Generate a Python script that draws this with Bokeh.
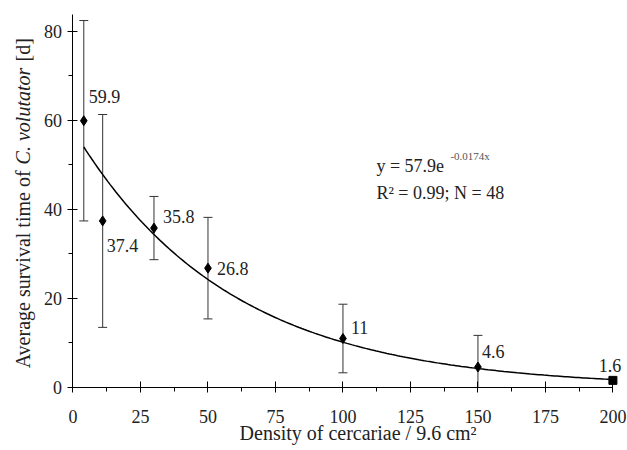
import numpy as np
from bokeh.plotting import figure
from bokeh.models import (ColumnDataSource, Whisker, TeeHead, Label, FixedTicker, Range1d)
from bokeh.embed import file_html
from bokeh.resources import INLINE

# ---- data ----
density = [4, 11, 30, 50, 100, 150, 200]
survival = [59.9, 37.4, 35.8, 26.8, 11.0, 4.6, 1.6]
sd = [22.5, 23.9, 7.1, 11.4, 7.7, 7.1, None]
point_labels = ["59.9", "37.4", "35.8", "26.8", "11", "4.6", "1.6"]
x_ticks = [0, 25, 50, 75, 100, 125, 150, 175, 200]
y_ticks = [0, 20, 40, 60, 80]
fit_a = 57.9
fit_b = -0.0174
fit_text = "y = 57.9e"
fit_exp_text = "-0.0174x"
stats_text = "R\u00b2 = 0.99; N = 48"

FONT = "Liberation Serif"
TXT = "#222222"

# the frame covers the whole canvas; axes are drawn at fixed data locations
p = figure(width=627, height=450, output_backend="svg", toolbar_location=None,
           x_range=Range1d(-26.85, 205.4), y_range=Range1d(-14.15, 86.9),
           min_border=0)
p.outline_line_color = None
p.xgrid.grid_line_color = None
p.ygrid.grid_line_color = None
p.background_fill_color = "white"
p.border_fill_color = "white"

xa = p.xaxis[0]
xa.fixed_location = 0
xa.ticker = FixedTicker(ticks=x_ticks, minor_ticks=[t + 12.5 for t in x_ticks[:-1]])
xa.bounds = (0, 200)
xa.major_tick_in = 6
xa.major_tick_out = 5
xa.minor_tick_in = 0
xa.minor_tick_out = 4
xa.major_label_standoff = 18
ya = p.yaxis[0]
ya.fixed_location = 0
ya.ticker = FixedTicker(ticks=y_ticks, minor_ticks=[10, 30, 50, 70])
ya.bounds = (0, 83.8)
ya.major_tick_in = 5
ya.major_tick_out = 5
ya.minor_tick_in = 0
ya.minor_tick_out = 4
ya.major_label_standoff = 6
for ax in (xa, ya):
    ax.axis_line_color = "black"
    ax.major_tick_line_color = "black"
    ax.minor_tick_line_color = "black"
    ax.major_label_text_font = FONT
    ax.major_label_text_font_size = "18px"
    ax.major_label_text_color = TXT

# fitted curve
xf = np.linspace(density[0], density[-1], 200)
yf = fit_a * np.exp(fit_b * xf)
p.line(xf, yf, line_color="black", line_width=1.5)

# error bars
eb = [(x, m, s) for x, m, s in zip(density, survival, sd) if s is not None]
src_err = ColumnDataSource(data=dict(
    x=[e[0] for e in eb],
    upper=[e[1] + e[2] for e in eb],
    lower=[max(e[1] - e[2], 0) for e in eb],
))
w = Whisker(source=src_err, base="x", upper="upper", lower="lower",
            line_color="#333333", line_width=1,
            upper_head=TeeHead(size=9, line_color="#333333", line_width=1),
            lower_head=TeeHead(size=9, line_color="#333333", line_width=1))
p.add_layout(w)

# points
p.scatter(density[:-1], survival[:-1], marker="diamond", size=10, color="black")
p.scatter(density[-1:], survival[-1:], marker="square", size=8, color="black")

# point labels
offsets = [(5, 24, "left"), (4, -25, "left"), (9, 12, "left"), (9, 0, "left"),
           (8, 11, "left"), (4, 16, "left"), (-3, 15, "center")]
for x, y, t, (dx, dy, al) in zip(density, survival, point_labels, offsets):
    p.add_layout(Label(x=x, y=y, text=t, x_offset=dx, y_offset=dy, text_align=al,
                       text_baseline="middle", text_font=FONT, text_font_size="18px",
                       text_color=TXT))

# equation
p.add_layout(Label(x=112.4, y=49.7, text=fit_text, text_baseline="middle",
                   text_font=FONT, text_font_size="18px", text_color=TXT))
p.add_layout(Label(x=139.8, y=52.0, text=fit_exp_text, text_baseline="middle",
                   text_font=FONT, text_font_size="11px", text_color="#555555"))
p.add_layout(Label(x=112.4, y=43.6, text=stats_text, text_baseline="middle",
                   text_font=FONT, text_font_size="18px", text_color=TXT))

# x axis label
p.add_layout(Label(x=105.6, y=-10.3, text="Density of cercariae / 9.6 cm\u00b2",
                   text_align="center", text_baseline="middle",
                   text_font=FONT, text_font_size="20px", text_color=TXT))

# y axis label (with italic species name)
ylab_x = -18.7
for t, ystart, style in [("Average survival time of", 4.3, "normal"),
                         ("C. volutator", 50.1, "italic"),
                         ("[d]", 73.2, "normal")]:
    p.add_layout(Label(x=ylab_x, y=ystart, text=t, angle=np.pi / 2,
                       text_align="left", text_baseline="middle",
                       text_font=FONT, text_font_size="20px", text_font_style=style,
                       text_color=TXT))

open("out.html", "w").write(file_html(p, INLINE))
